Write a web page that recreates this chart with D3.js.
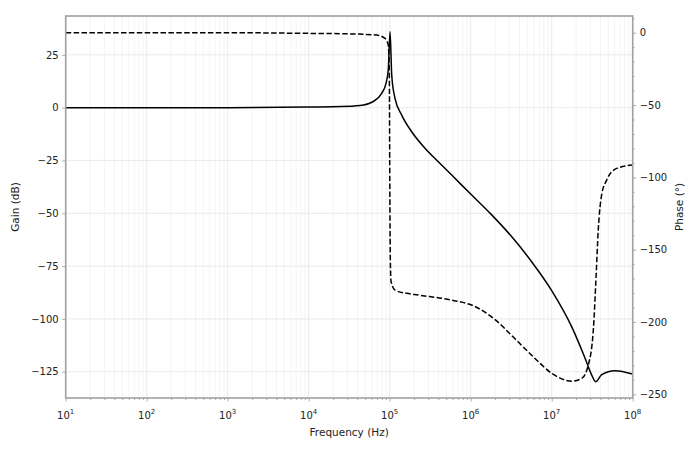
<!DOCTYPE html>
<html>
<head>
<meta charset="utf-8">
<script src="https://cdn.jsdelivr.net/npm/d3@7"></script>
<style>
  body { margin: 0; background: #fff; }
  svg { display: block; font-family: "DejaVu Sans", sans-serif; }
</style>
</head>
<body>
<svg id="chart" width="700" height="450"></svg>
<script>
// ---- data ----
const gainFreq = [10, 1e3, 1e4, 2.5e4, 4.3e4, 6.2e4, 7.96e4, 9.0e4, 9.6e4, 1.01e5, 1.059e5, 1.163e5, 1.406e5, 1.868e5, 2.728e5, 3.98e5, 5.83e5, 1e6, 1.78e6, 3.16e6, 5.62e6, 1e7, 1.78e7, 2.576e7, 3.12e7, 3.49e7, 4.14e7, 6.04e7, 1e8];
const gainDb   = [0, 0, 0.3, 0.5, 1.0, 2.8, 6.8, 11.5, 17.8, 36, 15.5, 4.4, -3.5, -11.4, -19.2, -25.6, -31.9, -40.9, -50.4, -60.8, -72.8, -86.6, -104, -118.5, -126.6, -129.7, -126.4, -124.5, -126.1];

const phaseFreq = [10, 1e3, 7.8e3, 3e4, 6.9e4, 8.75e4, 9.6e4, 9.9e4, 1.0e5, 1.02e5, 1.04e5, 1.163e5, 1.62e5, 2.25e5, 5.83e5, 1.13e6, 2.0e6, 3.52e6, 6.22e6, 1.0e7, 1.77e7, 2.35e7, 2.83e7, 3.27e7, 3.53e7, 3.76e7, 4.14e7, 4.77e7, 6.34e7, 1e8];
const phaseDeg  = [0, 0, -0.4, -0.8, -1.6, -3.9, -8.5, -30, -90, -160, -172, -178, -180.2, -181.4, -184.9, -189.3, -198.4, -211.6, -225.2, -235.5, -240.9, -239, -229.8, -205, -168.7, -136, -112, -101.9, -93.8, -91.5];

const gainTicks  = [25, 0, -25, -50, -75, -100, -125];
const phaseTicks = [0, -50, -100, -150, -200, -250];
const freqTicks  = [1e1, 1e2, 1e3, 1e4, 1e5, 1e6, 1e7, 1e8];
const labels = { x: "Frequency (Hz)", yLeft: "Gain (dB)", yRight: "Phase (°)" };

// ---- layout ----
const L = 65.7, R = 632.7, T = 16, B = 398;
const svg = d3.select("#chart");

const x = d3.scaleLog().domain([10, 1e8]).range([L, R]);
const yG = d3.scaleLinear().domain([-137.45, 43.4]).range([B, T]);
const yP = d3.scaleLinear().domain([-252.56, 11.55]).range([B, T]);

// minor frequency positions
const minorFreq = [];
for (let e = 1; e < 8; e++) for (let m = 2; m <= 9; m++) minorFreq.push(m * Math.pow(10, e));

// grid
const grid = svg.append("g");
grid.selectAll("line.minx").data(minorFreq).enter().append("line")
  .attr("x1", d => x(d)).attr("x2", d => x(d)).attr("y1", T).attr("y2", B)
  .attr("stroke", "#f1f1f1").attr("stroke-width", 0.8);
grid.selectAll("line.majx").data(freqTicks).enter().append("line")
  .attr("x1", d => x(d)).attr("x2", d => x(d)).attr("y1", T).attr("y2", B)
  .attr("stroke", "#e4e4e4").attr("stroke-width", 0.8);
grid.selectAll("line.majy").data(gainTicks).enter().append("line")
  .attr("x1", L).attr("x2", R).attr("y1", d => yG(d)).attr("y2", d => yG(d))
  .attr("stroke", "#e4e4e4").attr("stroke-width", 0.8);

// data lines
const gainData = gainFreq.map((f, i) => [f, gainDb[i]]);
const phaseData = phaseFreq.map((f, i) => [f, phaseDeg[i]]);

svg.append("path").datum(phaseData)
  .attr("fill", "none").attr("stroke", "#000").attr("stroke-width", 1.5)
  .attr("stroke-dasharray", "5.5,2.4")
  .attr("d", d3.line().x(d => x(d[0])).y(d => yP(d[1])).curve(d3.curveMonotoneX));

svg.append("path").datum(gainData)
  .attr("fill", "none").attr("stroke", "#000").attr("stroke-width", 1.5)
  .attr("d", d3.line().x(d => x(d[0])).y(d => yG(d[1])).curve(d3.curveMonotoneX));

// axes
const tickColor = "#999";
const textColor = "#222";

const xAxis = svg.append("g").attr("transform", `translate(0,${B})`)
  .call(d3.axisBottom(x).tickValues(freqTicks).tickFormat(() => "").tickSize(3.5));
const xMinor = svg.append("g").attr("transform", `translate(0,${B})`)
  .call(d3.axisBottom(x).tickValues(minorFreq).tickFormat(() => "").tickSize(2));

const yLeftAx = svg.append("g").attr("transform", `translate(${L},0)`)
  .call(d3.axisLeft(yG).tickValues(gainTicks).tickFormat(d => d3.format("")(d).replace("-", "\u2212")).tickSize(3.5).tickPadding(3.5));

const yRightAx = svg.append("g").attr("transform", `translate(${R},0)`)
  .call(d3.axisRight(yP).tickValues(phaseTicks).tickFormat(d => d3.format("")(d).replace("-", "\u2212")).tickSize(3.5).tickPadding(3.5));
const minorPhase = d3.range(-250, 11, 10).filter(v => v % 50 !== 0);
const yRightMinor = svg.append("g").attr("transform", `translate(${R},0)`)
  .call(d3.axisRight(yP).tickValues(minorPhase).tickFormat(() => "").tickSize(2));

[xAxis, xMinor, yLeftAx, yRightAx, yRightMinor].forEach(g => {
  g.selectAll(".domain").remove();
  g.selectAll("line").attr("stroke", tickColor).attr("stroke-width", 0.8);
  g.selectAll("text").attr("fill", textColor).attr("font-size", 10).attr("font-family", "DejaVu Sans");
});

// x tick labels with superscripts
const xl = svg.append("g");
freqTicks.forEach(f => {
  const e = Math.round(Math.log10(f));
  const t = xl.append("text").attr("x", x(f)).attr("y", 419).attr("text-anchor", "middle")
    .attr("font-size", 10).attr("fill", textColor);
  t.append("tspan").text("10");
  t.append("tspan").attr("dy", -5).attr("font-size", 7).text(e);
});

// frame
svg.append("rect").attr("x", L).attr("y", T).attr("width", R - L).attr("height", B - T)
  .attr("fill", "none").attr("stroke", "#a0a0a0").attr("stroke-width", 1.6);

// axis labels
svg.append("text").attr("x", (L + R) / 2).attr("y", 436).attr("text-anchor", "middle")
  .attr("font-size", 10.5).attr("fill", textColor).text(labels.x);
svg.append("text").attr("transform", `translate(19,${(T + B) / 2}) rotate(-90)`)
  .attr("text-anchor", "middle").attr("font-size", 10.5).attr("fill", textColor).text(labels.yLeft);
svg.append("text").attr("transform", `translate(683,${(T + B) / 2}) rotate(-90)`)
  .attr("text-anchor", "middle").attr("font-size", 10.5).attr("fill", textColor).text(labels.yRight);
</script>
</body>
</html>
